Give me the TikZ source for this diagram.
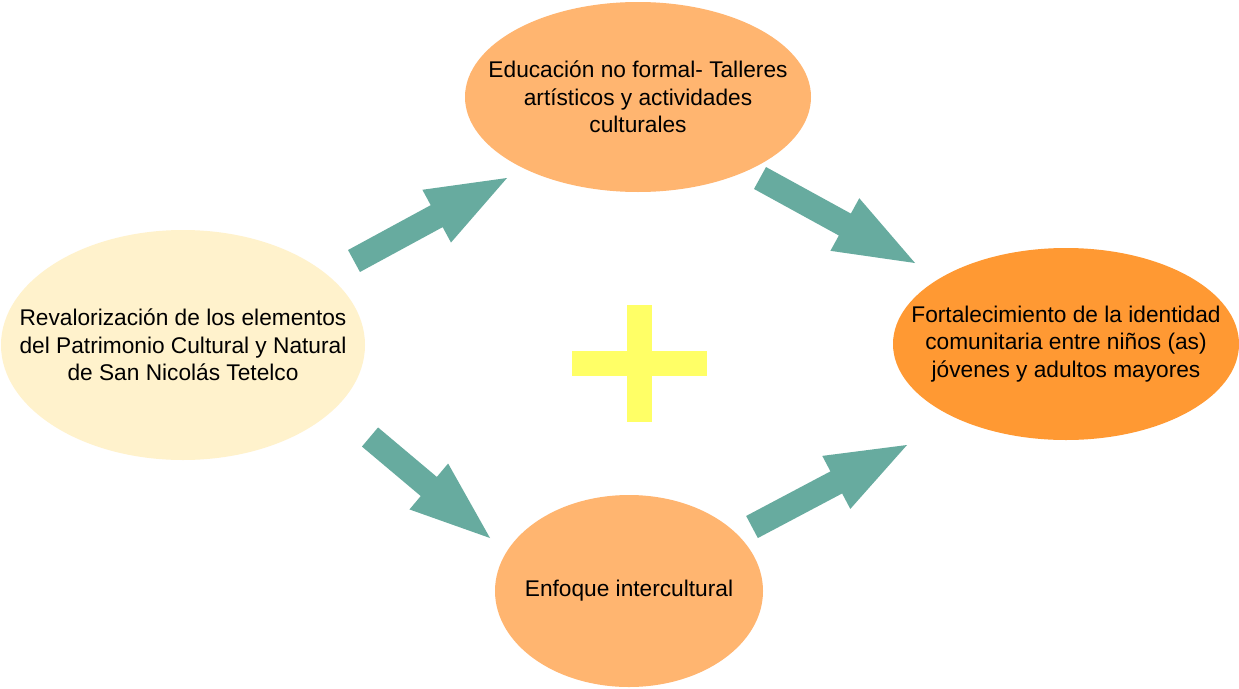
\documentclass[tikz,border=0pt]{standalone}
\usepackage{fontspec}
\setmainfont{Liberation Sans}
\usetikzlibrary{calc,shapes.geometric}
\definecolor{cream}{HTML}{FFF2CC}
\definecolor{peach}{HTML}{FFB570}
\definecolor{deeporange}{HTML}{FF9933}
\definecolor{arrowteal}{HTML}{67AB9F}
\definecolor{plusyellow}{HTML}{FFFF66}
\newcommand\blockarr[2]{%
  \path ($(#2)!80pt!(#1)$) coordinate (#1-base);
  \fill[arrowbody]
    ($(#1)!12.5pt!90:(#2)$) --
    ($(#1-base)!12.5pt!90:(#2)$) --
    ($(#1-base)!30pt!90:(#2)$) --
    (#2) --
    ($(#1-base)!30pt!-90:(#2)$) --
    ($(#1-base)!12.5pt!-90:(#2)$) --
    ($(#1)!12.5pt!-90:(#2)$) -- cycle;
}
\begin{document}
\begin{tikzpicture}[x=1pt,y=-1pt,
  bubble/.style={ellipse, inner sep=0pt, outer sep=0pt},
  bubbletext/.style={inner sep=0pt, align=center, text=black,
    font=\fontsize{22.7}{27.5}\selectfont},
  arrowbody/.style={fill=arrowteal},
  plusbar/.style={fill=plusyellow}]
\useasboundingbox (0,0) rectangle (1239,688);
\fill[white] (0,0) rectangle (1239,688);

\node[bubble, fill=cream, minimum width=364pt, minimum height=230pt] (rev) at (183,345) {};
\node[bubbletext] (revtext) at (rev.center)
  {Revalorización de los elementos\\del Patrimonio Cultural y Natural\\de San Nicolás Tetelco};
\node[bubble, fill=peach, minimum width=346pt, minimum height=190pt] (edu) at (638,97) {};
\node[bubbletext] (edutext) at (edu.center)
  {Educación no formal- Talleres\\artísticos y actividades\\culturales};
\node[bubble, fill=deeporange, minimum width=346pt, minimum height=192pt] (fort) at (1066,344) {};
\node[bubbletext] (forttext) at (fort.center)
  {Fortalecimiento de la identidad\\comunitaria entre niños (as)\\jóvenes y adultos mayores};
\node[bubble, fill=peach, minimum width=268pt, minimum height=192pt] (enf) at (629,591) {};
\node[bubbletext] (enftext) at (enf.center) {Enfoque intercultural};

% plus sign
\fill[plusbar] (572,351) rectangle (707,376);
\fill[plusbar] (627,305) rectangle (652,422);

% block arrows
\coordinate (a1) at (354,261); \coordinate (a1tip) at (507,178);
\coordinate (a2) at (760,178); \coordinate (a2tip) at (915,263);
\coordinate (a3) at (370,437); \coordinate (a3tip) at (490,538);
\coordinate (a4) at (752,527); \coordinate (a4tip) at (907,445);
\blockarr{a1}{a1tip}
\blockarr{a2}{a2tip}
\blockarr{a3}{a3tip}
\blockarr{a4}{a4tip}
\end{tikzpicture}
\end{document}
